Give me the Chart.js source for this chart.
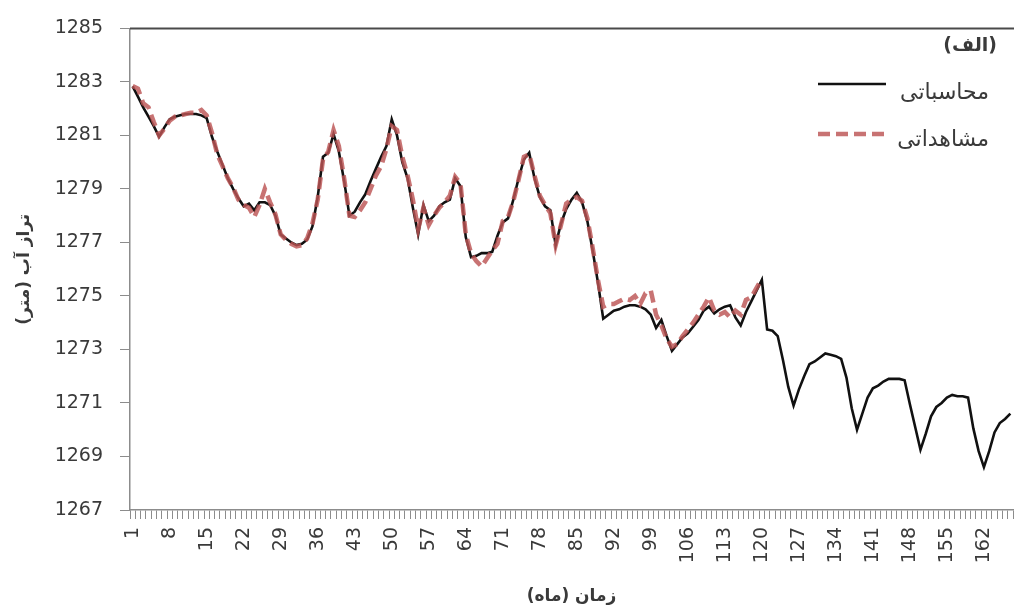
<!DOCTYPE html>
<html>
<head>
<meta charset="utf-8">
<script src="https://cdn.jsdelivr.net/npm/chart.js@4.4.1/dist/chart.umd.min.js"></script>
<style>
  html, body { margin: 0; padding: 0; background: #ffffff; }
  #wrap { width: 1014px; height: 611px; }
</style>
</head>
<body>
<div id="wrap"><canvas id="c" width="1014" height="611"></canvas></div>
<script>
// Month index along the x axis (1 … 167)
const months = Array.from({ length: 167 }, (_, i) => String(i + 1));
// Months that carry a visible tick label
const labeledMonths = ['1','8','15','22','29','36','43','50','57','64','71','78','85','92','99','106','113','120','127','134','141','148','155','162'];
// Water-level ticks (m)
const levelTicks = [1267, 1269, 1271, 1273, 1275, 1277, 1279, 1281, 1283, 1285];

// Simulated water level (m), months 1 … 167
const computed = [
  1282.83, 1282.45, 1282.05, 1281.70, 1281.35, 1280.95, 1281.30, 1281.60, 1281.70, 1281.75,
  1281.80, 1281.80, 1281.80, 1281.75, 1281.65, 1280.95, 1280.40, 1279.90, 1279.40, 1279.00,
  1278.65, 1278.35, 1278.45, 1278.20, 1278.50, 1278.50, 1278.40, 1278.00, 1277.30, 1277.15,
  1277.00, 1276.90, 1276.95, 1277.10, 1277.60, 1278.70, 1280.20, 1280.35, 1281.05, 1280.40,
  1279.30, 1278.00, 1278.15, 1278.50, 1278.80, 1279.30, 1279.75, 1280.20, 1280.60, 1281.60,
  1281.00, 1280.00, 1279.40, 1278.30, 1277.30, 1278.40, 1277.80, 1278.00, 1278.35, 1278.50,
  1278.60, 1279.40, 1279.10, 1277.20, 1276.45, 1276.50, 1276.60, 1276.60, 1276.65, 1277.25,
  1277.75, 1277.90, 1278.60, 1279.40, 1280.10, 1280.35, 1279.40, 1278.70, 1278.35, 1278.20,
  1276.90, 1277.70, 1278.25, 1278.60, 1278.85, 1278.50, 1277.80, 1276.70, 1275.50, 1274.15,
  1274.30, 1274.45, 1274.50, 1274.60, 1274.65, 1274.65, 1274.60, 1274.50, 1274.30, 1273.80,
  1274.10, 1273.50, 1272.95, 1273.20, 1273.45, 1273.60, 1273.85, 1274.10, 1274.45, 1274.60,
  1274.35, 1274.50, 1274.60, 1274.65, 1274.20, 1273.90, 1274.40, 1274.80, 1275.20, 1275.60,
  1273.75, 1273.70, 1273.50, 1272.60, 1271.60, 1270.90, 1271.50, 1272.00, 1272.45, 1272.55,
  1272.70, 1272.85, 1272.80, 1272.75, 1272.65, 1271.95, 1270.80, 1270.00, 1270.60, 1271.20,
  1271.55, 1271.65, 1271.80, 1271.90, 1271.90, 1271.90, 1271.85, 1270.95, 1270.10, 1269.25,
  1269.85, 1270.50, 1270.85, 1271.00, 1271.20, 1271.30, 1271.25, 1271.25, 1271.20, 1270.05,
  1269.20, 1268.60, 1269.20, 1269.90, 1270.25, 1270.40, 1270.60
];

// Measured water level (m), months 1 … 120
const observed = [
  1282.85, 1282.75, 1282.20, 1282.05, 1281.50, 1281.00, 1281.25, 1281.55, 1281.70, 1281.75,
  1281.80, 1281.85, 1281.85, 1281.95, 1281.75, 1281.10, 1280.30, 1279.85, 1279.40, 1279.05,
  1278.60, 1278.40, 1278.30, 1277.95, 1278.40, 1279.00, 1278.50, 1278.05, 1277.30, 1277.10,
  1276.95, 1276.85, 1276.90, 1277.15, 1277.70, 1278.60, 1280.10, 1280.40, 1281.20, 1280.60,
  1279.40, 1278.00, 1277.95, 1278.20, 1278.50, 1279.00, 1279.50, 1279.85, 1280.50, 1281.35,
  1281.20, 1280.20, 1279.50, 1278.60, 1277.50, 1278.30, 1277.65, 1278.00, 1278.30, 1278.50,
  1278.75, 1279.45, 1279.20, 1277.30, 1276.60, 1276.30, 1276.10, 1276.40, 1276.70, 1276.95,
  1277.80, 1277.95, 1278.55, 1279.35, 1280.20, 1280.30, 1279.50, 1278.75, 1278.40, 1278.10,
  1276.90, 1277.65, 1278.45, 1278.60, 1278.70, 1278.55, 1277.90, 1276.80, 1275.60, 1274.60,
  1274.70, 1274.70, 1274.80, 1274.90, 1274.85, 1275.00, 1274.70, 1275.10, 1275.20, 1274.30,
  1273.90, 1273.40, 1273.10, 1273.20, 1273.50, 1273.75, 1274.00, 1274.30, 1274.60, 1274.95,
  1274.45, 1274.30, 1274.40, 1274.20, 1274.45, 1274.30, 1274.85, 1274.95, 1275.30, 1275.65
];

const seriesNames = ['محاسباتی', 'مشاهداتی'];
const panelTag = '(الف)';
const xTitle = 'زمان (ماه)';
const yTitle = 'تراز آب (متر)';

const AXIS_GRAY = '#8c8c8c';
const TEXT_DARK = '#3a3a3a';
const FONT = '"DejaVu Sans", "Noto Sans", sans-serif';

// Dark frame line along the top of the plot area
const topFrame = {
  id: 'topFrame',
  afterDraw(chart) {
    const { ctx, chartArea } = chart;
    ctx.save();
    ctx.strokeStyle = '#4a4a4a';
    ctx.lineWidth = 2;
    ctx.beginPath();
    ctx.moveTo(chartArea.left, chartArea.top);
    ctx.lineTo(chart.width, chartArea.top);
    ctx.stroke();
    ctx.restore();
  }
};

// Panel tag and series key in the upper right corner
const cornerKey = {
  id: 'cornerKey',
  afterDraw(chart) {
    const { ctx } = chart;
    const ds = chart.data.datasets;
    const textRight = 989;
    ctx.save();
    ctx.direction = 'rtl';
    ctx.textAlign = 'right';
    ctx.textBaseline = 'middle';
    ctx.fillStyle = TEXT_DARK;
    ctx.font = 'bold 19px ' + FONT;
    ctx.fillText(panelTag, textRight + 8, 46);
    ctx.font = '22px ' + FONT;
    const rows = [93, 140];
    const lineY = [84, 134];
    ds.forEach((d, i) => {
      ctx.fillStyle = TEXT_DARK;
      ctx.fillText(d.label, textRight, rows[i]);
      ctx.strokeStyle = d.borderColor;
      ctx.lineWidth = d.borderWidth;
      ctx.setLineDash(d.borderDash || []);
      ctx.beginPath();
      ctx.moveTo(818, lineY[i]);
      ctx.lineTo(886, lineY[i]);
      ctx.stroke();
    });
    ctx.restore();
  }
};

new Chart(document.getElementById('c'), {
  type: 'line',
  data: {
    labels: months,
    datasets: [
      {
        label: seriesNames[0],
        data: computed,
        borderColor: '#111111',
        borderWidth: 2.6,
        pointRadius: 0,
        tension: 0,
        fill: false,
        order: 2
      },
      {
        label: seriesNames[1],
        data: observed,
        borderColor: 'rgba(188, 84, 84, 0.82)',
        borderWidth: 4.5,
        borderDash: [12, 6],
        pointRadius: 0,
        tension: 0,
        fill: false,
        order: 1
      }
    ]
  },
  options: {
    responsive: false,
    animation: false,
    devicePixelRatio: 1,
    layout: { padding: { top: 21, right: 1, left: 0, bottom: 0 } },
    plugins: {
      legend: { display: false },
      tooltip: { enabled: false },
      title: { display: false }
    },
    scales: {
      x: {
        type: 'category',
        offset: true,
        afterFit(scale) {
          scale.height = 101;
          scale.paddingLeft = 0;
          scale.paddingRight = 0;
        },
        grid: {
          offset: true,
          drawOnChartArea: false,
          drawTicks: true,
          tickLength: 9,
          color: AXIS_GRAY,
          lineWidth: 1
        },
        border: { display: true, color: AXIS_GRAY, width: 1.5 },
        ticks: {
          autoSkip: false,
          minRotation: 90,
          maxRotation: 90,
          padding: 8,
          color: TEXT_DARK,
          font: { family: FONT, size: 19 },
          callback(value, index) {
            const m = months[index];
            return labeledMonths.includes(m) ? m : '';
          }
        },
        title: {
          display: true,
          text: xTitle,
          color: TEXT_DARK,
          font: { family: FONT, size: 17, weight: 'bold' },
          padding: { top: 0, bottom: 4 }
        }
      },
      y: {
        min: 1267,
        max: 1285,
        afterFit(scale) { scale.width = 130; },
        afterBuildTicks(scale) {
          scale.ticks = levelTicks.map(v => ({ value: v }));
        },
        grid: {
          drawOnChartArea: false,
          drawTicks: true,
          tickLength: 10,
          color: AXIS_GRAY
        },
        border: { display: true, color: AXIS_GRAY, width: 1.5 },
        ticks: {
          padding: 17,
          color: TEXT_DARK,
          font: { family: FONT, size: 19 },
          callback(value) { return String(value); }
        },
        title: {
          display: true,
          text: yTitle,
          color: TEXT_DARK,
          font: { family: FONT, size: 17, weight: 'bold' },
          padding: { top: 14, bottom: 0 }
        }
      }
    }
  },
  plugins: [topFrame, cornerKey]
});
</script>
</body>
</html>
